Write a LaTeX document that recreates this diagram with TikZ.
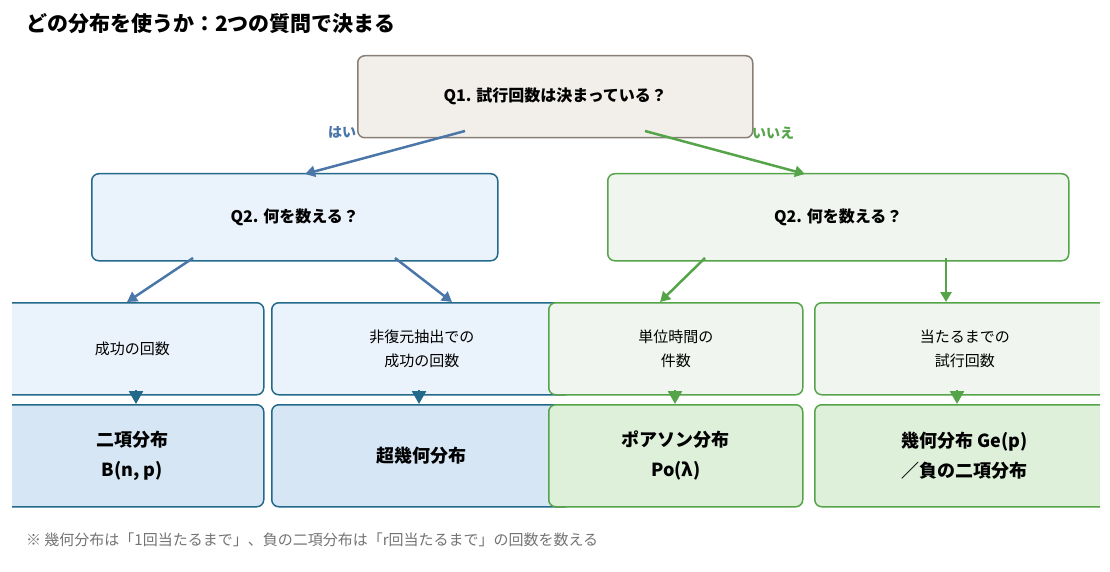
\documentclass[tikz,border=0pt]{standalone}
\usepackage{fontspec}
\setmainfont{Noto Sans CJK JP}
\usetikzlibrary{arrows.meta}
\definecolor{qgray}{RGB}{138,127,120}
\definecolor{qfill}{RGB}{242,239,234}
\definecolor{bline}{RGB}{35,106,138}
\definecolor{barrow}{RGB}{74,118,168}
\definecolor{bfill}{RGB}{234,242,251}
\definecolor{bdark}{RGB}{214,230,244}
\definecolor{gline}{RGB}{85,164,74}
\definecolor{gfill}{RGB}{240,246,239}
\definecolor{gdark}{RGB}{222,239,218}
\tikzset{every picture/.style={line width=1.5pt}}
\tikzset{
  box/.style={draw, rounded corners=7pt, anchor=north west, inner sep=0pt, align=center},
  qbox/.style={box, draw=qgray, fill=qfill, font=\bfseries\fontsize{16}{20}\selectfont},
  bq/.style={box, draw=bline, fill=bfill, font=\bfseries\fontsize{16}{20}\selectfont},
  gq/.style={box, draw=gline, fill=gfill, font=\bfseries\fontsize{16}{20}\selectfont},
  bmid/.style={box, draw=bline, fill=bfill, font=\fontsize{15}{24}\selectfont},
  gmid/.style={box, draw=gline, fill=gfill, font=\fontsize{15}{24}\selectfont},
  bres/.style={box, draw=bline, fill=bdark, font=\bfseries\fontsize{18}{30}\selectfont},
  gres/.style={box, draw=gline, fill=gdark, font=\bfseries\fontsize{18}{30}\selectfont},
  link/.style={-{Triangle[length=10pt,width=11pt]}, line width=2.5pt},
  drop/.style={-{Triangle[length=13pt,width=14pt]}, line width=2.5pt},
  ans/.style={font=\bfseries\fontsize{14}{16}\selectfont}
}
\begin{document}
\begin{tikzpicture}[x=1pt,y=-1pt]
\useasboundingbox (0,0) rectangle (1110,572);

\node[anchor=west, font=\bfseries\fontsize{21}{24}\selectfont] (title) at (22,24) {どの分布を使うか：2つの質問で決まる};

% questions
\node[qbox, minimum width=395pt, minimum height=82pt] (q1) at (357,55) {Q1. 試行回数は決まっている？};
\node[bq, minimum width=406pt, minimum height=87pt] (q2a) at (91,173) {Q2. 何を数える？};
\node[gq, minimum width=461pt, minimum height=87pt] (q2b) at (607,173) {Q2. 何を数える？};

\coordinate (y1) at (465,131);
\coordinate (n1) at (645,131);
\draw[link, draw=barrow, fill=barrow] (y1) -- (305,174);
\draw[link, draw=gline, fill=gline] (n1) -- (805,174);
\node[ans, text=barrow] (yes) at (342,132) {はい};
\node[ans, text=gline] (no) at (773,133) {いいえ};

% rows, clipped at the sides
\begin{scope}
\clip (12,280) rectangle (1100,520);
\node[bmid, minimum width=263pt, minimum height=92pt] (m1) at (0,302) {成功の回数};
\node[bmid, minimum width=300pt, minimum height=92pt] (m2) at (271,302) {非復元抽出での\\成功の回数};
\node[gmid, minimum width=254pt, minimum height=92pt] (m3) at (548,302) {単位時間の\\件数};
\node[gmid, minimum width=300pt, minimum height=92pt] (m4) at (814,302) {当たるまでの\\試行回数};
\node[bres, minimum width=263pt, minimum height=102pt] (r1) at (0,404) {二項分布\\B(n, p)};
\node[bres, minimum width=300pt, minimum height=102pt] (r2) at (271,404) {超幾何分布};
\node[gres, minimum width=254pt, minimum height=102pt] (r3) at (548,404) {ポアソン分布\\Po(λ)};
\node[gres, minimum width=300pt, minimum height=102pt] (r4) at (814,404) {幾何分布 Ge(p)\\／負の二項分布};
\end{scope}

\draw[link, draw=barrow, fill=barrow] (193,258) -- (127,302);
\draw[link, draw=barrow, fill=barrow] (395,258) -- (452,302);
\draw[link, draw=gline, fill=gline] (705,258) -- (660,302);
\draw[link, draw=gline, fill=gline] (946,258) -- (946,302);

\foreach \a/\b/\x/\c in {m1/r1/136/bline, m2/r2/419/bline, m3/r3/675/gline, m4/r4/957/gline}
  \draw[drop, draw=\c, fill=\c] (\x,390) -- (\x,404);

\node[anchor=west, text=black!55, font=\fontsize{15}{18}\selectfont] (note) at (22,540)
  {※ 幾何分布は「1回当たるまで」、負の二項分布は「r回当たるまで」の回数を数える};
\end{tikzpicture}
\end{document}
